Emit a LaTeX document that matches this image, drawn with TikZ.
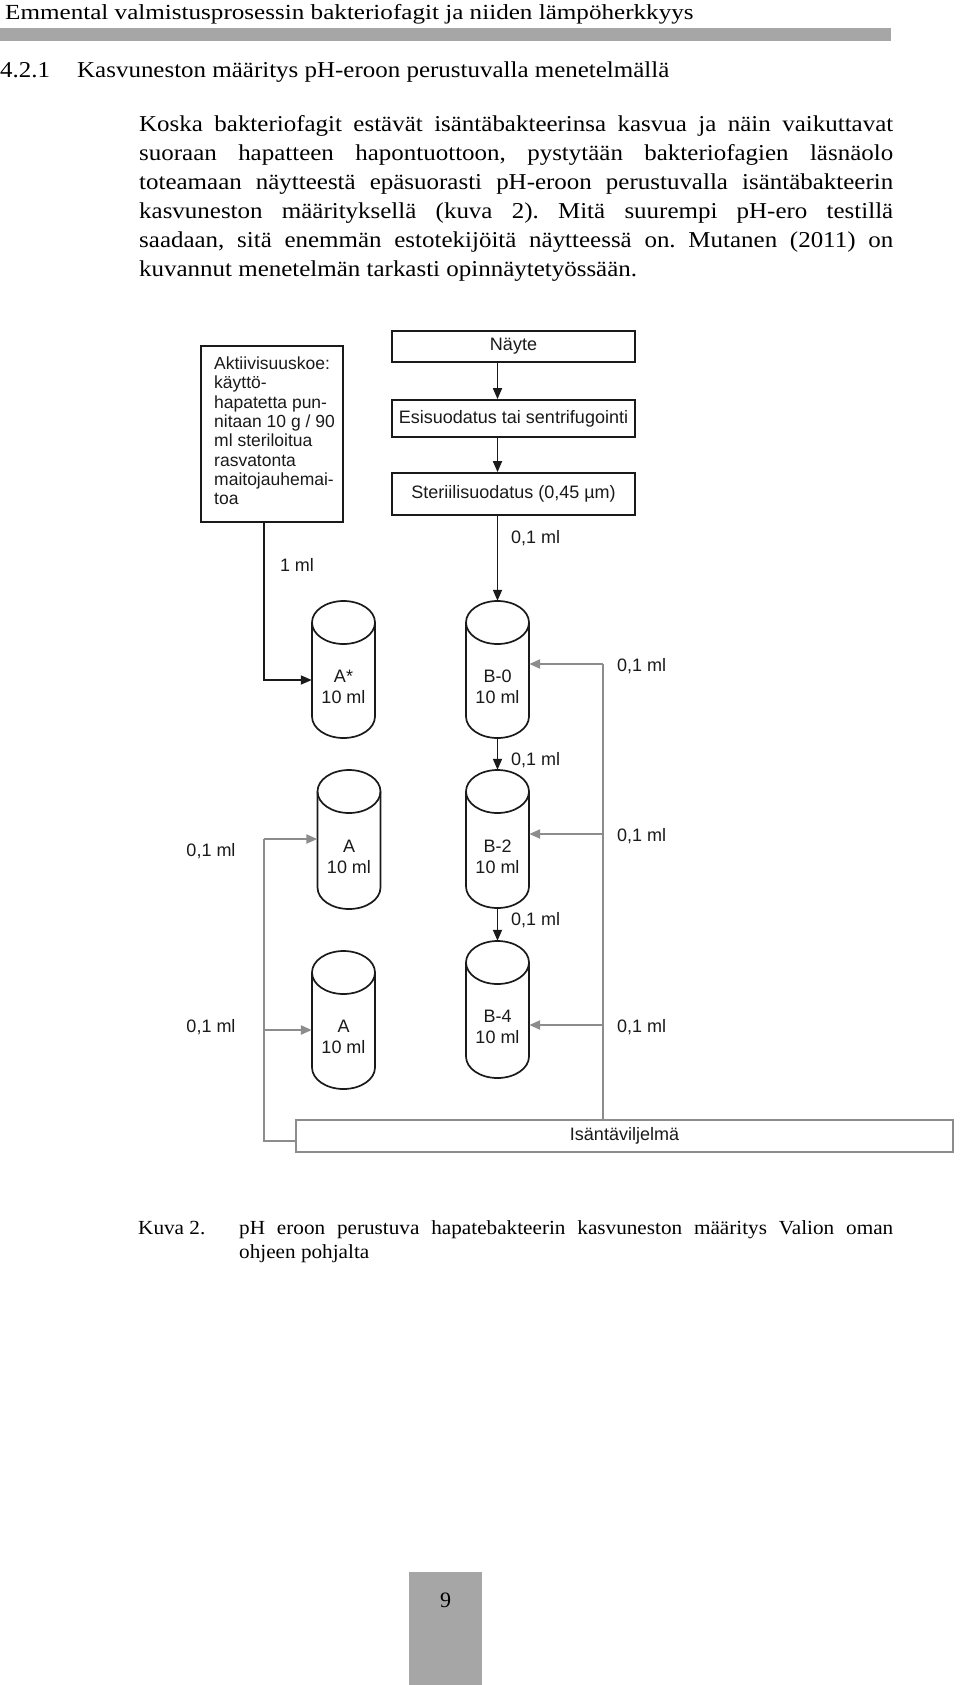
\documentclass[tikz,border=0pt]{standalone}
\usepackage{fontspec}
\setmainfont{Liberation Serif}
\newfontfamily\diag{Liberation Sans}
\newfontfamily\hdrf[FakeStretch=1.168]{Liberation Serif}
\newfontfamily\paraf[FakeStretch=1.10]{Liberation Serif}
\newfontfamily\captf[FakeStretch=1.06]{Liberation Serif}
\usetikzlibrary{arrows.meta}
\definecolor{barg}{HTML}{A6A6A6}
\definecolor{lineg}{HTML}{8C8C8C}
\definecolor{ink}{HTML}{1A1A1A}
\newcommand\mycyl[4]{% name, cx, ytop, ybot
  \node[cylbb, minimum height={(#4-#3)*1pt}] (#1) at (#2,{-(#3+#4)/2}) {};
  \draw[cylline] (#2,{-#3-21.5}) ellipse [x radius=31.5, y radius=21.5];
  \draw[cylline] ({#2-31.5},{-#3-21.5}) -- ({#2-31.5},{-#4+21.5})
     arc[start angle=180, end angle=360, x radius=31.5, y radius=21.5]
     -- ({#2+31.5},{-#3-21.5});
}
\begin{document}
\frenchspacing
\begin{tikzpicture}[x=1pt,y=1pt,
  box/.style={draw=ink, line width=1.7pt, inner sep=0pt, font=\diag\fontsize{18}{21}\selectfont, text=ink},
  lab/.style={inner sep=0pt, font=\diag\fontsize{18}{21}\selectfont, text=ink},
  cyltext/.style={inner sep=0pt, align=center, font=\diag\fontsize{18}{21}\selectfont, text=ink},
  cylbb/.style={inner sep=0pt, minimum width=63pt},
  cylline/.style={draw=ink, line width=1.7pt},
  barr/.style={draw=ink, line width=1.7pt, -{Triangle[length=11pt,width=9pt]}},
  garr/.style={draw=lineg, line width=2.2pt, -{Triangle[length=11pt,width=9pt]}},
  gline/.style={draw=lineg, line width=2.2pt},
  serif/.style={inner sep=0pt, anchor=base west, font=\paraf\fontsize{22.7}{27}\selectfont},
  capt/.style={inner sep=0pt, anchor=base west, font=\captf\fontsize{20}{24}\selectfont},
]
\useasboundingbox (0,0) rectangle (960,-1685);
\fill[white] (0,0) rectangle (960,-1685);

% header
\node[inner sep=0pt, anchor=base west, font=\hdrf\fontsize{21.5}{25}\selectfont] (hdr) at (5,-20)
  {Emmental valmistusprosessin bakteriofagit ja niiden lämpöherkkyys};
\fill[barg] (0,-28) rectangle (891,-41);

% section heading
\node[serif] (secno) at (0,-78) {4.2.1};
\node[serif] (sect) at (77,-78) {Kasvuneston määritys pH-eroon perustuvalla menetelmällä};

% paragraph
\node[serif] (p1) at (139,-131.5) {\makebox[754pt][s]{Koska bakteriofagit estävät isäntäbakteerinsa kasvua ja näin vaikuttavat}};
\node[serif] (p2) at (139,-160.5) {\makebox[754pt][s]{suoraan hapatteen hapontuottoon, pystytään bakteriofagien läsnäolo}};
\node[serif] (p3) at (139,-189.5) {\makebox[754pt][s]{toteamaan näytteestä epäsuorasti pH-eroon perustuvalla isäntäbakteerin}};
\node[serif] (p4) at (139,-218.5) {\makebox[754pt][s]{kasvuneston määrityksellä (kuva 2). Mitä suurempi pH-ero testillä}};
\node[serif] (p5) at (139,-247.5) {\makebox[754pt][s]{saadaan, sitä enemmän estotekijöitä näytteessä on. Mutanen (2011) on}};
\node[serif] (p6) at (139,-276.5) {kuvannut menetelmän tarkasti opinnäytetyössään.};

% flow boxes
\node[box, minimum width=243pt, minimum height=31pt] (nayte) at (513.5,-346.5) {Näyte};
\node[box, minimum width=243pt, minimum height=37pt] (esis) at (513.5,-418.5) {Esisuodatus tai sentrifugointi};
\node[box, minimum width=243pt, minimum height=42pt] (steri) at (513.5,-494) {Steriilisuodatus (0,45 µm)};
\node[box, minimum width=142pt, minimum height=176pt] (akti) at (272,-434) {};
\node[inner sep=0pt, anchor=north west, align=left, text=ink,
      font=\diag\fontsize{17.5}{19.3}\selectfont] (aktitxt) at (214,-356.7)
  {Aktiivisuuskoe:\\käyttö-\\hapatetta pun-\\nitaan 10 g / 90\\ml steriloitua\\rasvatonta\\maitojauhemai-\\toa};
\node[draw=lineg, line width=2.2pt, inner sep=0pt, minimum width=657pt, minimum height=32pt,
      font=\diag\fontsize{18}{21}\selectfont, text=ink] (isa) at (624.5,-1136) {Isäntäviljelmä};

% cylinders
\mycyl{Astar}{343.5}{601}{738}
\mycyl{Bzero}{497.5}{601}{738}
\mycyl{Atwo}{349}{770}{909}
\mycyl{Btwo}{497.5}{770}{908}
\mycyl{Athree}{343.5}{951}{1089}
\mycyl{Bfour}{497.5}{941}{1078}

\node[cyltext] (tAstar) at (343.5,-686.5) {A*\\10 ml};
\node[cyltext] (tBzero) at (497.5,-686.5) {B-0\\10 ml};
\node[cyltext] (tAtwo) at (349,-857) {A\\10 ml};
\node[cyltext] (tBtwo) at (497.5,-857) {B-2\\10 ml};
\node[cyltext] (tAthree) at (343.5,-1037) {A\\10 ml};
\node[cyltext] (tBfour) at (497.5,-1027) {B-4\\10 ml};

% black connectors
\draw[barr] (nayte.south -| Bzero.north) -- (esis.north -| Bzero.north);
\draw[barr] (esis.south -| Bzero.north) -- (steri.north -| Bzero.north);
\draw[barr] (steri.south -| Bzero.north) -- (Bzero.north);
\draw[barr] (Bzero.south) -- (Btwo.north);
\draw[barr] (Btwo.south) -- (Bfour.north);
\coordinate (akd) at (264,-680);
\draw[barr] (akti.south -| akd) -- (akd) -- (akd -| Astar.west);

% gray connectors right
\coordinate (r0) at (603,-664);
\coordinate (r1) at (603,-834);
\coordinate (r2) at (603,-1025);
\draw[gline] (isa.north -| r0) -- (r0);
\draw[garr] (r0) -- (r0 -| Bzero.east);
\draw[garr] (r1) -- (r1 -| Btwo.east);
\draw[garr] (r2) -- (r2 -| Bfour.east);

% gray connectors left
\coordinate (l1) at (264,-839);
\coordinate (l2) at (264,-1030);
\coordinate (l3) at (264,-1141);
\draw[gline] (isa.west |- l3) -- (l3) -- (l1);
\draw[garr] (l1) -- (l1 -| Atwo.west);
\draw[garr] (l2) -- (l2 -| Athree.west);

% labels
\node[lab] (q0) at (297,-565) {1 ml};
\node[lab, anchor=west] (q1) at (511,-538) {0,1 ml};
\node[lab, anchor=west] (q2) at (511,-760) {0,1 ml};
\node[lab, anchor=west] (q3) at (511,-920) {0,1 ml};
\node[lab, anchor=west] (q4) at (617,-666) {0,1 ml};
\node[lab, anchor=west] (q5) at (617,-836) {0,1 ml};
\node[lab, anchor=west] (q6) at (617,-1027) {0,1 ml};
\node[lab] (q7) at (211,-851) {0,1 ml};
\node[lab] (q8) at (211,-1027) {0,1 ml};

% caption
\node[capt] (kuva) at (138,-1234) {Kuva 2.};
\node[capt] (c1t) at (239,-1234) {\makebox[654pt][s]{pH eroon perustuva hapatebakteerin kasvuneston määritys Valion oman}};
\node[capt] (c2t) at (239,-1258) {ohjeen pohjalta};

% page number
\fill[barg] (409,-1572) rectangle (482,-1685);
\node[inner sep=0pt, font=\fontsize{22}{26}\selectfont] (pg) at (445.5,-1600) {9};
\end{tikzpicture}
\end{document}
